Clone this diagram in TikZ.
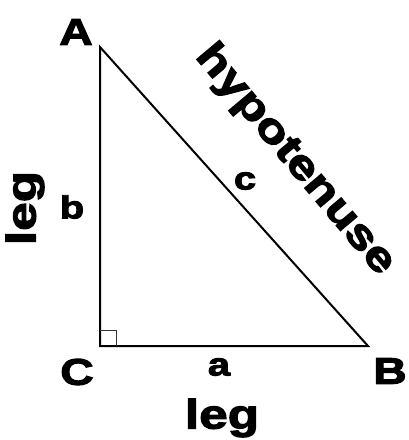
\documentclass[tikz,border=0pt]{standalone}
\usepackage{fontspec}
\setmainfont{Liberation Sans}
\newfontfamily\heavyfont{Liberation Sans Bold}[FakeBold=3,FakeStretch=1.25]

\newcommand*{\sqsize}{16}

\begin{document}
\begin{tikzpicture}
[
	vertex/.style={inner sep=0pt,font=\heavyfont\fontsize{37}{37}\selectfont},
	side/.style={inner sep=0pt,font=\heavyfont\fontsize{32}{32}\selectfont},
	sidename/.style={inner sep=0pt,font=\heavyfont\fontsize{41}{41}\selectfont},
	x=1pt,
	y=-1pt
]

	\useasboundingbox (0,0) rectangle (408,440);

	% corners
	\coordinate (A) at (100,47);
	\coordinate (C) at (100,346);
	\coordinate (B) at (368,346);

	% triangle
	\draw[line width=2pt,line join=miter] (A) -- (B) -- (C) -- cycle;

	% right angle
	\draw[line width=1pt,black!80] ([yshift=\sqsize pt]C) -- ++(\sqsize,0) -- ++(0,\sqsize);

	% vertices
	\node[vertex] (labA) at (76,32) {A};
	\node[vertex] (labB) at (390,371) {B};
	\node[vertex] (labC) at (77,372) {C};

	% sides
	\node[side] (laba) at (219,367) {a};
	\node[side] (labb) at (72,207) {b};
	\node[side] (labc) at (245,181) {c};

	% names
	\node[sidename,rotate=90] (legb) at (25,208) {leg};
	\node[sidename] (lega) at (222,418) {leg};
	\node[sidename,rotate=-50] (hyp) at (295,160) {hypotenuse};

\end{tikzpicture}
\end{document}
